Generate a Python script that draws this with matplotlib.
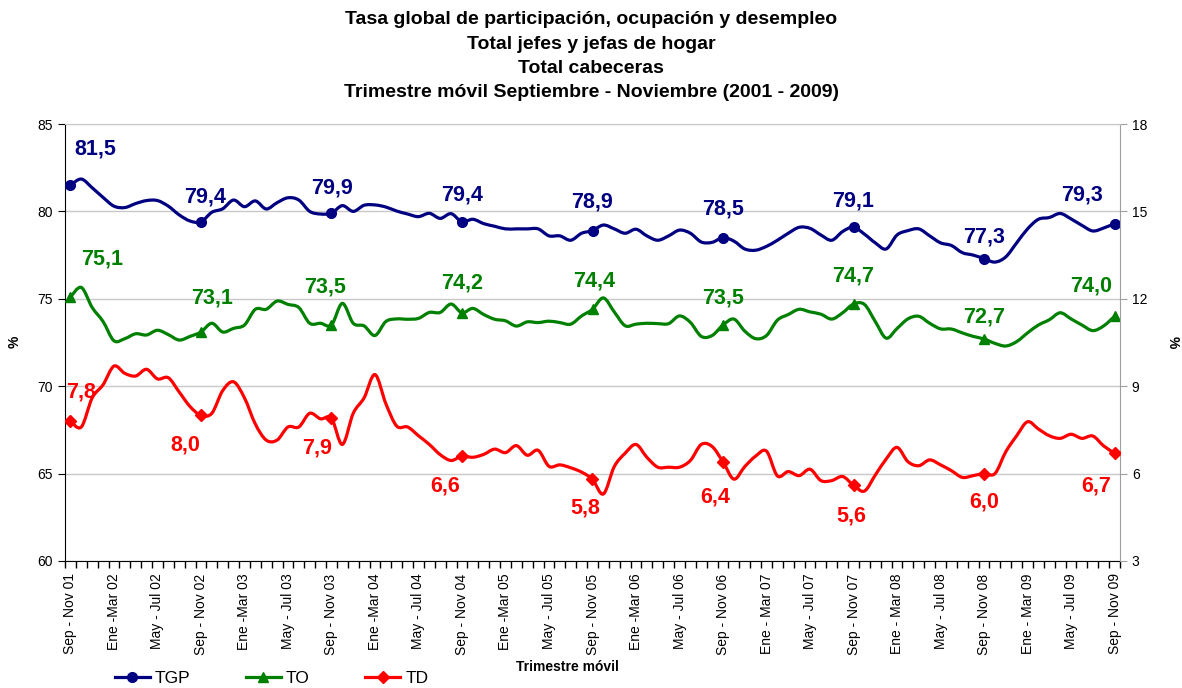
import numpy as np
import matplotlib
matplotlib.use("Agg")
import matplotlib.pyplot as plt
from matplotlib.path import Path
from matplotlib.patches import PathPatch
from matplotlib.lines import Line2D

plt.rcParams['font.family'] = ['Liberation Sans', 'DejaVu Sans']

# trimestre movil: Sep-Nov 01 ... Sep-Nov 09 (97 puntos)
etiquetas = ['Sep - Nov 01', 'Ene -Mar 02', 'May - Jul 02', 'Sep - Nov 02', 'Ene -Mar 03',
             'May - Jul 03', 'Sep - Nov 03', 'Ene -Mar 04', 'May - Jul 04', 'Sep - Nov 04',
             'Ene -Mar 05', 'May - Jul 05', 'Sep - Nov 05', 'Ene -Mar 06', 'May - Jul 06',
             'Sep - Nov 06', 'Ene - Mar 07', 'May - Jul 07', 'Sep - Nov 07', 'Ene - Mar 08',
             'May - Jul 08', 'Sep - Nov 08', 'Ene - Mar 09', 'May - Jul 09', 'Sep - Nov 09']

tgp = [81.5, 81.85, 81.35, 80.8, 80.3, 80.22, 80.45, 80.62, 80.62, 80.3,
       79.8, 79.45, 79.4, 79.95, 80.15, 80.65, 80.27, 80.6, 80.14, 80.5,
       80.78, 80.65, 80.0, 79.85, 79.9, 80.33, 80.0, 80.35, 80.37, 80.25,
       80.02, 79.85, 79.7, 79.89, 79.6, 79.87, 79.4, 79.55, 79.3, 79.15,
       79.0, 79.0, 79.0, 79.0, 78.6, 78.6, 78.35, 78.75, 78.9, 79.22,
       79.0, 78.75, 78.98, 78.6, 78.35, 78.6, 78.93, 78.75, 78.25, 78.23,
       78.5, 78.3, 77.85, 77.78, 78.0, 78.35, 78.75, 79.09, 79.03, 78.65,
       78.35, 78.85, 79.1, 78.7, 78.2, 77.85, 78.65, 78.9, 79.0, 78.6,
       78.2, 78.05, 77.64, 77.5, 77.3, 77.1, 77.4, 78.2, 79.0, 79.55,
       79.65, 79.88, 79.57, 79.2, 78.88, 79.05, 79.3]

to = [75.1, 75.65, 74.5, 73.7, 72.6, 72.72, 73.0, 72.93, 73.2, 72.95,
      72.64, 72.85, 73.1, 73.6, 73.1, 73.31, 73.5, 74.4, 74.4, 74.87,
      74.68, 74.5, 73.6, 73.6, 73.5, 74.74, 73.6, 73.45, 72.9, 73.7,
      73.85, 73.83, 73.88, 74.22, 74.22, 74.7, 74.2, 74.45, 74.1, 73.83,
      73.74, 73.44, 73.68, 73.64, 73.72, 73.64, 73.55, 74.02, 74.4, 75.05,
      74.25, 73.46, 73.55, 73.6, 73.58, 73.58, 74.02, 73.65, 72.85, 72.9,
      73.5, 73.84, 73.15, 72.72, 72.9, 73.78, 74.1, 74.4, 74.25, 74.12,
      73.84, 74.2, 74.7, 74.68, 73.7, 72.75, 73.3, 73.85, 74.0, 73.6,
      73.28, 73.27, 73.05, 72.85, 72.7, 72.45, 72.3, 72.55, 73.05, 73.5,
      73.8, 74.2, 73.85, 73.5, 73.18, 73.45, 74.0]

td = [7.8, 7.6, 8.6, 9.05, 9.69, 9.44, 9.35, 9.58, 9.25, 9.29,
      8.8, 8.3, 8.0, 8.07, 8.85, 9.15, 8.6, 7.7, 7.15, 7.15,
      7.6, 7.6, 8.07, 7.88, 7.9, 7.0, 8.07, 8.6, 9.4, 8.4,
      7.63, 7.6, 7.3, 7.0, 6.65, 6.45, 6.6, 6.56, 6.66, 6.84,
      6.72, 6.96, 6.63, 6.8, 6.25, 6.3, 6.2, 6.05, 5.8, 5.3,
      6.24, 6.7, 7.0, 6.56, 6.22, 6.22, 6.22, 6.45, 7.0, 6.93,
      6.4, 5.81, 6.24, 6.6, 6.77, 5.92, 6.07, 5.93, 6.15, 5.76,
      5.76, 5.9, 5.6, 5.4, 5.95, 6.5, 6.9, 6.41, 6.27, 6.47,
      6.3, 6.1, 5.87, 5.93, 6.0, 6.0, 6.75, 7.3, 7.78, 7.53,
      7.3, 7.21, 7.35, 7.21, 7.29, 6.95, 6.7]

# valores rotulados en cada Sep - Nov
tgp_lab = ['81,5', '79,4', '79,9', '79,4', '78,9', '78,5', '79,1', '77,3', '79,3']
to_lab = ['75,1', '73,1', '73,5', '74,2', '74,4', '73,5', '74,7', '72,7', '74,0']
td_lab = ['7,8', '8,0', '7,9', '6,6', '5,8', '6,4', '5,6', '6,0', '6,7']

# desplazamientos de rotulos (pixeles)
tgp_off = [(25, 36), (4, 25), (1, 25), (0, 27), (-1, 29), (0, 29), (0, 26), (0, 22), (-33, 29)]
to_off = [(32, 38), (11, 34), (-6, 38), (0, 30), (2, 28), (0, 27), (0, 28), (0, 22), (-23, 30)]
td_off = [(11, 29), (-16, -30), (-14, -30), (-17, -30), (-7, -29), (-8, -35), (-2, -31), (0, -28), (-18, -33)]


def curva_suave(ax, y, color):
    # spline tipo Excel (Catmull-Rom en Bezier)
    n = len(y)
    p = np.column_stack([np.arange(n), np.asarray(y, float)])
    verts = [p[0]]
    codes = [Path.MOVETO]
    for i in range(n - 1):
        p0 = p[max(i - 1, 0)]
        p1 = p[i]
        p2 = p[i + 1]
        p3 = p[min(i + 2, n - 1)]
        verts += [p1 + (p2 - p0) / 6, p2 - (p3 - p1) / 6, p2]
        codes += [Path.CURVE4] * 3
    ax.add_patch(PathPatch(Path(verts, codes), fill=False, edgecolor=color,
                           lw=2.3, capstyle='round', joinstyle='round', zorder=3))


fig = plt.figure(figsize=(11.82, 6.88), dpi=100)
ax1 = fig.add_axes([65 / 1182, 1 - 561 / 688, (1120 - 65) / 1182, (561 - 124) / 688])
ax2 = ax1.twinx()

x = np.arange(len(tgp))
sel = np.arange(0, len(tgp), 12)

curva_suave(ax1, tgp, '#000080')
curva_suave(ax1, to, '#008000')
curva_suave(ax2, td, '#FF0000')
ax1.plot(sel, np.array(tgp)[sel], 'o', color='#000080', ms=7, zorder=4)
ax1.plot(sel, np.array(to)[sel], '^', color='#008000', ms=7, zorder=4)
ax2.plot(sel, np.array(td)[sel], 'D', color='#FF0000', ms=6, zorder=4)

for k, i in enumerate(sel):
    ax1.annotate(tgp_lab[k], (i, tgp[i]), xytext=tgp_off[k], textcoords='offset pixels',
                 ha='center', va='center', fontsize=15.5, fontweight='bold', color='#000080')
    ax1.annotate(to_lab[k], (i, to[i]), xytext=to_off[k], textcoords='offset pixels',
                 ha='center', va='center', fontsize=15.5, fontweight='bold', color='#008000')
    ax2.annotate(td_lab[k], (i, td[i]), xytext=td_off[k], textcoords='offset pixels',
                 ha='center', va='center', fontsize=15.5, fontweight='bold', color='#FF0000')

ax1.set_xlim(-0.5, len(tgp) - 0.5)
ax1.set_ylim(60, 85)
ax2.set_ylim(3, 18)
ax1.set_yticks(np.arange(60, 86, 5))
ax2.set_yticks(np.arange(3, 19, 3))
ax1.set_xticks(np.arange(0, len(tgp), 4))
ax1.set_xticklabels(etiquetas, rotation=90, fontsize=10)
ax1.set_xticks(np.arange(-0.5, len(tgp), 1), minor=True)
ax1.tick_params(axis='x', which='major', length=0, pad=9)
ax1.tick_params(axis='x', which='minor', length=5, width=1, direction='out')
ax1.tick_params(axis='y', labelsize=10, length=5, direction='out')
ax2.tick_params(axis='y', labelsize=10, length=5, direction='out', color='#a0a0a0')
ax1.grid(axis='y', color='#c8c8c8', lw=1)
ax1.set_axisbelow(True)

for s in ['top', 'right']:
    ax1.spines[s].set_visible(False)
ax2.spines['top'].set_color('#c8c8c8')
ax2.spines['right'].set_color('#a0a0a0')
ax2.spines['left'].set_visible(False)
ax2.spines['bottom'].set_visible(False)

fig.text(15 / 1182, 1 - 342 / 688, '%', rotation=90, ha='center', va='center',
         fontsize=10, fontweight='bold')
fig.text(1173 / 1182, 1 - 342 / 688, '%', rotation=-90, ha='center', va='center',
         fontsize=10, fontweight='bold')
fig.text(567 / 1182, 1 - 667 / 688, 'Trimestre móvil', ha='center', va='center',
         fontsize=10, fontweight='bold')

titulo = ['Tasa global de participación, ocupación y desempleo',
          'Total jefes y jefas de hogar',
          'Total cabeceras',
          'Trimestre móvil Septiembre - Noviembre (2001 - 2009)']
for k, t in enumerate(titulo):
    fig.text(0.5, 1 - (20 + 24.3 * k) / 688, t, ha='center', va='center',
             fontsize=14, fontweight='bold')

handles = [Line2D([], [], color='#000080', lw=2.3, marker='o', ms=7),
           Line2D([], [], color='#008000', lw=2.3, marker='^', ms=7),
           Line2D([], [], color='#FF0000', lw=2.3, marker='D', ms=6)]
fig.legend(handles, ['TGP', 'TO', 'TD'], loc='center left', ncol=3,
           bbox_to_anchor=(108 / 1182, 1 - 678 / 688), frameon=False, fontsize=12.5,
           handlelength=2.0, handletextpad=0.3, columnspacing=3.2, borderaxespad=0)

fig.savefig('out.png', dpi=100)
